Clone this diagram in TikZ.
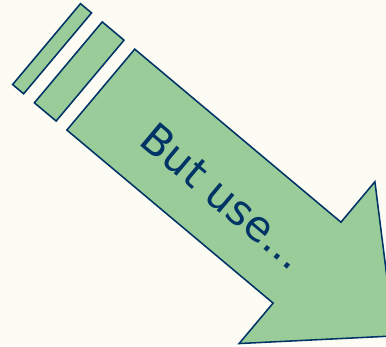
\documentclass[tikz,border=0pt]{standalone}
\usepackage{fontspec}
\setmainfont{DejaVu Sans}
\usepackage{xcolor}
\definecolor{leafgreen}{RGB}{153,204,153}
\definecolor{navy}{RGB}{0,51,102}
\definecolor{cream}{RGB}{252,252,244}

\begin{document}
\begin{tikzpicture}[
    block/.style={draw=navy, fill=leafgreen, line width=1.1pt, line join=miter}]
    % Canvas
    \fill[cream] (0,0) rectangle (9.65,8.65);
    \useasboundingbox (0,0) rectangle (9.65,8.65);
    \clip (0,0) rectangle (9.65,8.65);

    \begin{scope}[shift={(2.52,6.41)}, rotate=-40]
        % Stripes
        \draw[block] (-1.77,-1.32) rectangle (-1.41,1.32);
        \draw[block] (-1.06,-1.32) rectangle (-0.35,1.32);

        % Arrow
        \draw[block] (0,-1.32) -- (6.73,-1.32) -- (6.73,-2.64) -- (9.58,0)
            -- (6.73,2.64) -- (6.73,1.32) -- (0,1.32) -- cycle;

        % Label
        \node[text=navy, font=\fontsize{30}{34}\selectfont, rotate=-40, anchor=base] (label) at (4.07,-0.44) {But use...};
    \end{scope}
\end{tikzpicture}
\end{document}
